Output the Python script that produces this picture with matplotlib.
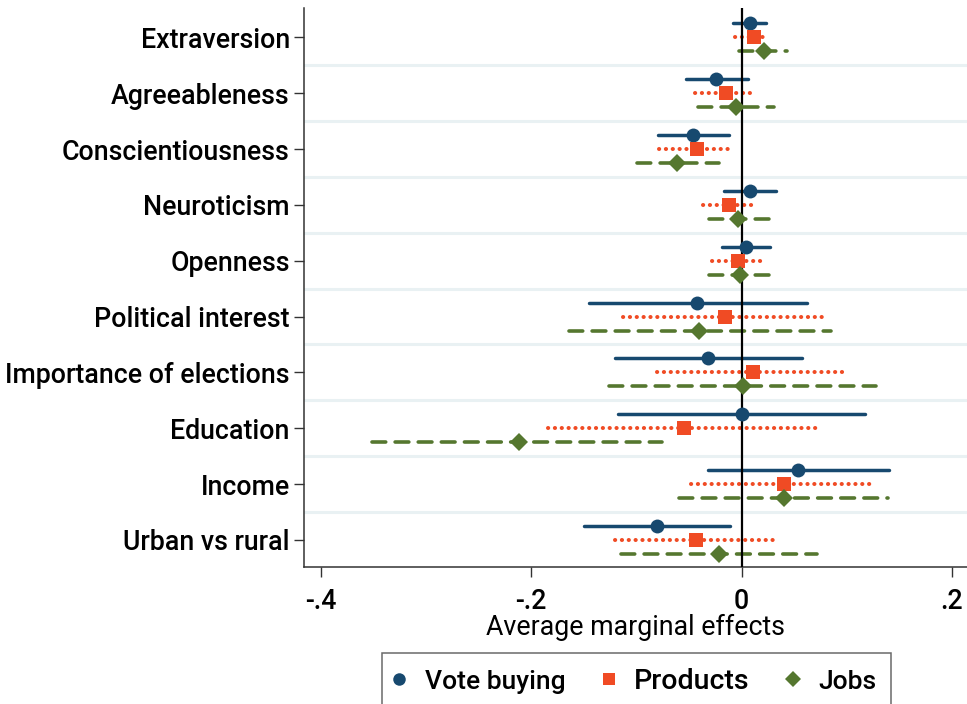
import matplotlib
matplotlib.use("Agg")
import matplotlib.pyplot as plt
from matplotlib.lines import Line2D

plt.rcParams['font.family'] = ['Roboto', 'DejaVu Sans']
plt.rcParams['font.weight'] = 'medium'

categories = ["Extraversion", "Agreeableness", "Conscientiousness", "Neuroticism",
              "Openness", "Political interest", "Importance of elections",
              "Education", "Income", "Urban vs rural"]

# point estimates and 95% CI bounds
vote_est = [0.008, -0.024, -0.046, 0.008, 0.004, -0.042, -0.032, 0.000, 0.054, -0.080]
vote_lo = [-0.008, -0.053, -0.079, -0.017, -0.019, -0.145, -0.120, -0.117, -0.032, -0.150]
vote_hi = [0.023, 0.006, -0.012, 0.033, 0.027, 0.062, 0.057, 0.117, 0.140, -0.011]

prod_est = [0.012, -0.015, -0.042, -0.012, -0.003, -0.016, 0.011, -0.055, 0.040, -0.043]
prod_lo = [-0.006, -0.044, -0.078, -0.037, -0.028, -0.113, -0.080, -0.184, -0.048, -0.120]
prod_hi = [0.025, 0.010, -0.012, 0.011, 0.021, 0.080, 0.101, 0.072, 0.127, 0.032]

jobs_est = [0.021, -0.005, -0.061, -0.003, -0.001, -0.040, 0.001, -0.211, 0.040, -0.021]
jobs_lo = [-0.002, -0.041, -0.099, -0.031, -0.031, -0.164, -0.126, -0.351, -0.059, -0.115]
jobs_hi = [0.043, 0.031, -0.021, 0.026, 0.029, 0.085, 0.128, -0.076, 0.139, 0.072]

series_names = ["Vote buying", "Products", "Jobs"]
xtick_vals = [-0.4, -0.2, 0, 0.2]
xtick_labels = ["-.4", "-.2", "0", ".2"]

BLUE = "#17496f"
ORANGE = "#f04b24"
GREEN = "#55772f"

fig = plt.figure(figsize=(9.67, 7.04), dpi=100)
ax = fig.add_axes([303.7 / 967, 136.7 / 704, (967 - 303.7) / 967, (567.3 - 8) / 704])

ypos = list(range(len(categories)))

# separators between categories
for i in range(len(categories) - 1):
    ax.axhline(i + 0.5, color="#e9f1f3", lw=2.2, zorder=1)

styles = [
    (vote_est, vote_lo, vote_hi, BLUE, -0.25, "o", 10, 2.5, dict(linestyle="-")),
    (prod_est, prod_lo, prod_hi, ORANGE, 0.0, "s", 9.5, 2.9, dict(linestyle=(0, (0.05, 1.65)))),
    (jobs_est, jobs_lo, jobs_hi, GREEN, 0.25, "D", 9.5, 2.6, dict(linestyle=(0, (3.8, 2.6)))),
]

for est, lo, hi, col, off, mk, ms, lw, ls in styles:
    for i in range(len(categories)):
        ax.plot([lo[i], hi[i]], [ypos[i] + off, ypos[i] + off], color=col, lw=lw,
                solid_capstyle="round", dash_capstyle="round", zorder=2, **ls)
    ax.plot(est, [y + off for y in ypos], linestyle="none", marker=mk, ms=ms,
            color=col, markeredgewidth=0, zorder=4)

ax.axvline(0, color="black", lw=1.6, zorder=3)

ax.set_xlim(-0.416, 0.2142)
ax.set_ylim(len(categories) - 1 + 0.49, -0.525)
ax.set_yticks(ypos)
ax.set_yticklabels(categories, fontsize=19.3)
ax.set_xticks(xtick_vals)
ax.set_xticklabels(xtick_labels, fontsize=19.3)
ax.tick_params(axis="y", length=7, width=1, color="#333333", pad=3)
ax.tick_params(axis="x", length=7, width=1, color="#333333", pad=8)
ax.set_xlabel("Average marginal effects", fontsize=19.3, labelpad=-1)

for s in ["top", "right"]:
    ax.spines[s].set_visible(False)
for s in ["left", "bottom"]:
    ax.spines[s].set_color("#333333")
    ax.spines[s].set_linewidth(1.1)

handles = [
    Line2D([], [], linestyle="none", marker="o", ms=9, color=BLUE, markeredgewidth=0),
    Line2D([], [], linestyle="none", marker="s", ms=8.5, color=ORANGE, markeredgewidth=0),
    Line2D([], [], linestyle="none", marker="D", ms=8.5, color=GREEN, markeredgewidth=0),
]
leg = fig.legend(handles, series_names, loc="upper center", ncol=3,
                 bbox_to_anchor=(636.5 / 967, 51 / 704), borderaxespad=0,
                 fontsize=19, frameon=True, fancybox=False, edgecolor="#444444",
                 borderpad=0.55, handlelength=0.2, handletextpad=0.85,
                 columnspacing=1.55)
leg.get_frame().set_linewidth(1.1)
leg.get_texts()[1].set_fontsize(20.5)

fig.savefig("out.png", dpi=100)
